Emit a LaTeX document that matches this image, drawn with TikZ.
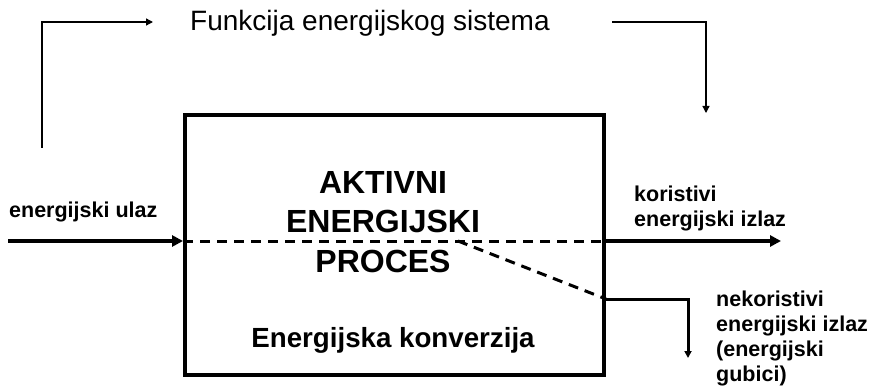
\documentclass[tikz,border=0pt]{standalone}
\usepackage{fontspec}
\setmainfont{Liberation Sans}
\usetikzlibrary{arrows.meta}
\begin{document}
\begin{tikzpicture}[x=1pt,y=-1pt,
  thin line/.style={line width=1.3pt,black},
  thick line/.style={line width=3.8pt,black},
  mid line/.style={line width=3pt,black},
  dashline/.style={line width=3pt,black,dash pattern=on 10pt off 7pt},
  big head/.style={-{Triangle[length=11pt,width=11pt]}},
  small head/.style={-{Triangle[length=7pt,width=7pt]}},
  lbl/.style={inner sep=0pt,font=\bfseries\fontsize{21.5}{25}\selectfont,align=left},
]
\useasboundingbox (0,0) rectangle (883,390);
% box
\node[draw,line width=4pt,minimum width=419pt,minimum height=260pt,inner sep=0pt] (box) at (394.5,245) {};
% texts
\node[inner sep=0pt,anchor=base west,font=\fontsize{28}{32}\selectfont] (title) at (190,30.7) {Funkcija energijskog sistema};
\node[inner sep=0pt,anchor=north,align=center,font=\bfseries\fontsize{32}{39.5}\selectfont] (proc) at (383,171) {AKTIVNI\\ENERGIJSKI\\PROCES};
\node[inner sep=0pt,anchor=base,font=\bfseries\fontsize{27.7}{32}\selectfont] (conv) at (393,347) {Energijska konverzija};
\node[lbl,anchor=base west] (inlbl) at (9,218) {energijski ulaz};
\node[lbl,anchor=north west] (outlbl) at (634,185.6) {koristivi\\energijski izlaz};
\node[lbl,anchor=north west] (losslbl) at (716,290.6) {nekoristivi\\energijski izlaz\\(energijski\\gubici)};
% coordinates
\coordinate (in) at (8,241);
\coordinate (out) at (781,241);
\coordinate (split) at (458,241);
\coordinate (loss) at (604,299);
\coordinate (lossturn) at (688,299);
\coordinate (lossend) at (688,358);
\coordinate (fbstart) at (42,148);
\coordinate (fbturn) at (42,22);
\coordinate (fbend) at (153,22);
\coordinate (fb2start) at (612,22);
\coordinate (fb2turn) at (706,22);
\coordinate (fb2end) at (706,113);
% connectors
\draw[thick line,big head] (in) -- (in -| box.west);
\draw[dashline] (in -| box.west) -- (in -| box.east);
\draw[thick line,big head] (in -| box.east) -- (out);
\draw[dashline] (split) -- (loss -| box.east);
\draw[mid line,small head] (loss -| box.east) -- (lossturn) -- (lossend);
\draw[thin line,small head] (fbstart) -- (fbturn) -- (fbend);
\draw[thin line,small head] (fb2start) -- (fb2turn) -- (fb2end);
\end{tikzpicture}
\end{document}
